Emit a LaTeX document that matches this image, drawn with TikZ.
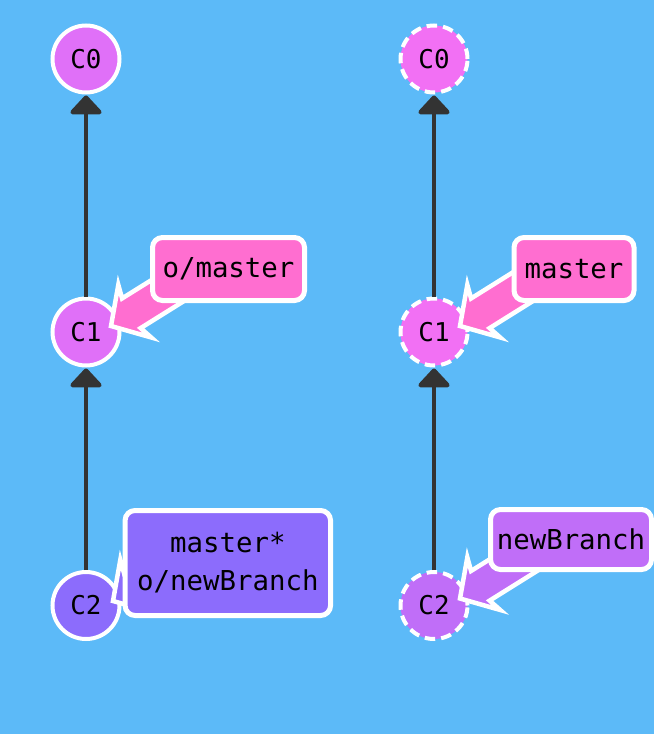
\documentclass[tikz,border=0pt]{standalone}
\usepackage{fontspec}
\setmonofont{DejaVu Sans Mono}
\usetikzlibrary{arrows.meta,calc}
\definecolor{bgc}{RGB}{92,186,248}
\definecolor{cmtL}{RGB}{224,112,248}
\definecolor{cmtR}{RGB}{242,112,244}
\definecolor{violetL}{RGB}{140,108,252}
\definecolor{violetR}{RGB}{192,110,248}
\definecolor{pinkc}{RGB}{255,110,208}
\definecolor{arrowc}{RGB}{51,51,51}
\newcommand\branchptr[2]{%
  \begin{scope}[shift={#1}, rotate=32]
    \filldraw[fill=#2, draw=white, line width=4.5bp, line join=miter]
      (0,0) -- (28,31) -- (24,17.5) -- (110,17.5) -- (110,-17.5) -- (24,-17.5) -- (28,-31) -- cycle;
  \end{scope}}
\begin{document}
\begin{tikzpicture}[x=1bp,y=-1bp,
  commit/.style={circle, draw=white, line width=4bp, minimum size=67bp, inner sep=0pt,
    font=\ttfamily\fontsize{26}{30}\selectfont},
  ghost/.style={commit, dash pattern=on 10.5bp off 6bp},
  lbl/.style={rectangle, rounded corners=10bp, draw=white, line width=5bp, inner sep=0pt,
    font=\ttfamily\fontsize{27.5}{38}\selectfont, align=center},
  parent/.style={draw=arrowc, line width=4.5bp,
    -{Triangle[width=36bp,length=20bp,round]}, shorten >=1bp}]
\fill[bgc] (0,0) rectangle (654,734);
\useasboundingbox (0,0) rectangle (654,734);
% left graph
\node[commit, fill=cmtL] (c0l) at (86,59) {C0};
\node[commit, fill=cmtL] (c1l) at (86,332) {C1};
\node[commit, fill=violetL] (c2l) at (86,605.5) {C2};
% right graph
\node[ghost, fill=cmtR] (c0r) at (434,59) {C0};
\node[ghost, fill=cmtR] (c1r) at (434,332) {C1};
\node[ghost, fill=violetR] (c2r) at (434,605.5) {C2};
% parent arrows
\draw[parent] (c1l) -- (c0l);
\draw[parent] (c2l) -- (c1l);
\draw[parent] (c1r) -- (c0r);
\draw[parent] (c2r) -- (c1r);
% branch pointers
\branchptr{($(c1l)+(25,-6)$)}{pinkc}
\branchptr{($(c2l)+(27,-4.5)$)}{violetL}
\branchptr{($(c1r)+(26,-6)$)}{pinkc}
\branchptr{($(c2r)+(26,-7)$)}{violetR}
% labels
\node[lbl, fill=pinkc, minimum width=152bp, minimum height=63bp] (omaster) at (228.5,269) {o/master};
\node[lbl, fill=violetL, minimum width=205.5bp, minimum height=105bp] (mstar) at (227.8,563) {master*\\o/newBranch};
\node[lbl, fill=pinkc, minimum width=120bp, minimum height=63bp] (master) at (574,269) {master};
\node[lbl, fill=violetR, minimum width=161bp, minimum height=60bp] (newbr) at (571,539.5) {newBranch};
\end{tikzpicture}
\end{document}
